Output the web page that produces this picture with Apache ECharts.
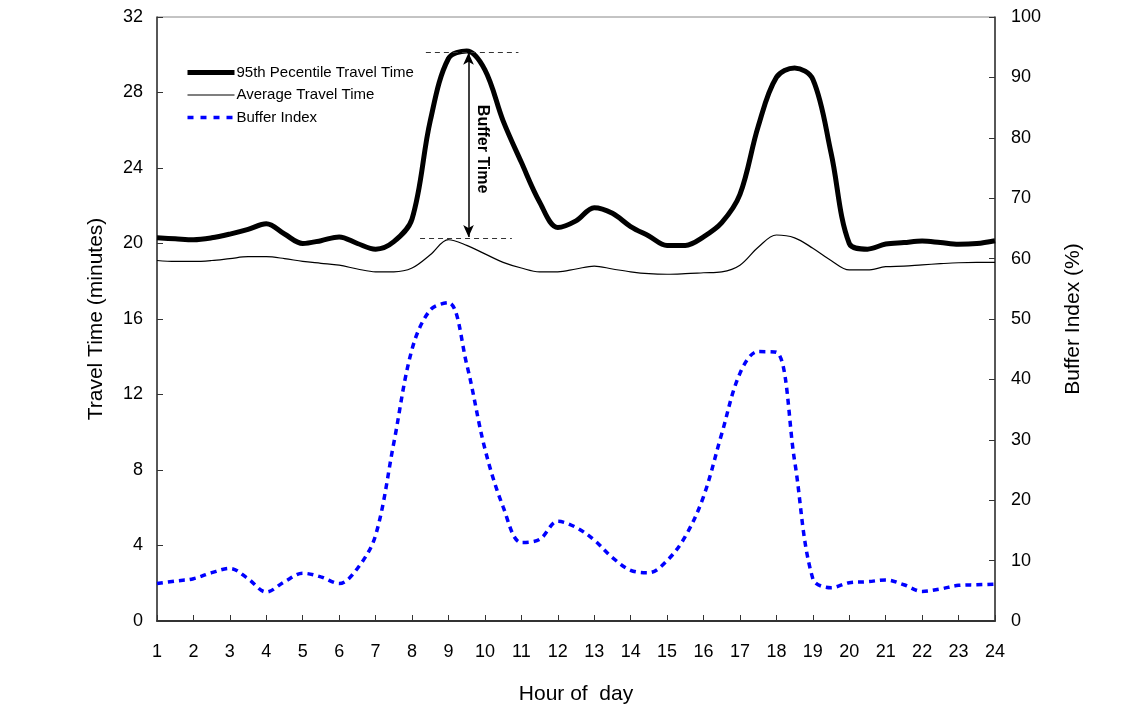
<!DOCTYPE html>
<html>
<head>
<meta charset="utf-8">
<script src="https://cdn.jsdelivr.net/npm/echarts@6/dist/echarts.min.js"></script>
<style>html,body{margin:0;padding:0;background:#fff}#c{width:1145px;height:707px}</style>
</head>
<body>
<div id="c"></div>
<script>
const hours = [1,1.5,2,2.5,3,3.5,4,4.5,5,5.5,6,6.5,7,7.5,8,8.5,9,9.5,10,10.5,11,11.5,12,12.5,13,13.5,14,14.5,15,15.5,16,16.5,17,17.5,18,18.5,19,19.5,20,20.5,21,21.5,22,22.5,23,23.5,24];
const p95 = [20.3,20.25,20.2,20.3,20.5,20.75,21.05,20.5,20.0,20.15,20.35,20.0,19.7,20.1,21.3,26.5,29.8,30.2,29.2,26.5,24.3,22.2,20.85,21.2,21.9,21.6,20.9,20.4,19.9,19.9,20.35,21.1,22.6,26.2,28.8,29.3,28.7,24.8,20.0,19.7,19.97,20.05,20.13,20.05,19.96,20.0,20.15];
const avgTT = [19.1,19.05,19.05,19.1,19.2,19.3,19.3,19.2,19.05,18.95,18.85,18.65,18.5,18.5,18.7,19.4,20.2,19.9,19.45,19.0,18.7,18.5,18.5,18.65,18.8,18.65,18.5,18.4,18.37,18.4,18.45,18.5,18.85,19.8,20.45,20.3,19.75,19.1,18.6,18.6,18.77,18.8,18.87,18.93,18.98,19.0,19.0];
const bufferIdx = [6.2,6.6,7.0,8.0,8.7,7.0,4.8,6.5,7.9,7.3,6.2,8.7,14.2,29.5,45.0,51.5,52.7,42.5,28.5,18.9,13.0,13.5,16.5,15.5,13.4,10.5,8.4,8.0,10.0,14.0,20.6,31.0,41.0,44.6,44.5,26.5,7.0,5.5,6.35,6.5,6.8,6.0,4.9,5.3,5.9,6.0,6.1];
const seriesNames = ['95th Pecentile Travel Time','Average Travel Time','Buffer Index'];
// annotation (data coordinates): upper/lower dashed guides and arrow
const upperGuide = [[8.38,30.15],[10.92,30.15]];
const lowerGuide = [[8.22,20.3],[10.74,20.3]];
const arrowLine = [[9.55,30.1],[9.55,20.35]];
const annotText = {x:9.93, y:25.0, text:'Buffer Time'};

const font = 'Liberation Sans, Arial, sans-serif';
const chart = echarts.init(document.getElementById('c'), null, {renderer:'canvas'});
const zip = (a)=>hours.map((h,i)=>[h,a[i]]);
const lw = [5, 1.2, 3.5];
chart.setOption({
  animation:false,
  backgroundColor:'#fff',
  textStyle:{fontFamily:font},
  grid:{left:157,right:150,top:17,bottom:86,outerBoundsMode:'none',containLabel:false,show:true,borderColor:'#888',borderWidth:1,backgroundColor:'transparent'},
  legend:{
    orient:'vertical', left:180, top:60, itemWidth:47, itemHeight:14, itemGap:7.5,
    itemStyle:{opacity:0},
    textStyle:{fontFamily:font,fontSize:15,color:'#000',padding:[0,0,0,-3]},
    data:[
      {name:seriesNames[0], lineStyle:{width:lw[0]}},
      {name:seriesNames[1], lineStyle:{width:lw[1]}},
      {name:seriesNames[2], lineStyle:{width:lw[2],type:[6,7]}}
    ]
  },
  xAxis:{
    type:'value', min:1, max:24, interval:1,
    name:'Hour of  day', nameLocation:'middle', nameGap:63,
    nameTextStyle:{fontSize:21,color:'#000',fontFamily:font},
    axisLine:{lineStyle:{color:'#333',width:2}},
    axisTick:{inside:true,length:6,lineStyle:{color:'#333'}},
    axisLabel:{fontSize:18,color:'#000',margin:22,fontFamily:font},
    splitLine:{show:false}
  },
  yAxis:[{
    type:'value', min:0, max:32, interval:4, position:'left',
    name:'Travel Time (minutes)', nameLocation:'middle', nameGap:50,
    nameTextStyle:{fontSize:21,color:'#000',fontFamily:font},
    axisLine:{show:true,lineStyle:{color:'#333',width:1.5}},
    axisTick:{show:true,inside:true,length:6,lineStyle:{color:'#333'}},
    axisLabel:{fontSize:18,color:'#000',margin:14,fontFamily:font},
    splitLine:{show:false}
  },{
    type:'value', min:0, max:100, interval:10, position:'right',
    name:'Buffer Index (%)', nameLocation:'middle', nameGap:68,
    nameTextStyle:{fontSize:21,color:'#000',fontFamily:font},
    axisLine:{show:true,lineStyle:{color:'#333',width:1.5}},
    axisTick:{show:true,inside:true,length:6,lineStyle:{color:'#333'}},
    axisLabel:{fontSize:18,color:'#000',margin:16,fontFamily:font},
    splitLine:{show:false}
  }],
  series:[{
    name:seriesNames[0], type:'line', yAxisIndex:0, data:zip(p95), smooth:0.35,
    symbol:'none', lineStyle:{color:'#000',width:lw[0]}, itemStyle:{color:'#000'},
    markLine:{
      silent:true, symbol:'none', label:{show:false},
      lineStyle:{color:'#333',width:1,type:[5,4]},
      data:[
        [{coord:upperGuide[0]},{coord:upperGuide[1]}],
        [{coord:lowerGuide[0]},{coord:lowerGuide[1]}],
        [{coord:arrowLine[0],symbol:'arrow'},{coord:arrowLine[1],symbol:'arrow',lineStyle:{type:'solid',width:1.5,color:'#000'}}]
      ],
      symbolSize:[8,12]
    }
  },{
    name:seriesNames[1], type:'line', yAxisIndex:0, data:zip(avgTT), smooth:0.35,
    symbol:'none', lineStyle:{color:'#000',width:lw[1]}, itemStyle:{color:'#000'}
  },{
    name:seriesNames[2], type:'line', yAxisIndex:1, data:zip(bufferIdx), smooth:0.35,
    symbol:'none', lineStyle:{color:'#0000ff',width:lw[2],type:[6,5]}, itemStyle:{color:'#0000ff'}
  }]
});
const pt = chart.convertToPixel({xAxisIndex:0,yAxisIndex:0},[annotText.x,annotText.y]);
chart.setOption({graphic:[{
  type:'text', x:pt[0], y:pt[1], rotation:-Math.PI/2,
  style:{text:annotText.text, font:'bold 16px '+font, fill:'#000', align:'center', verticalAlign:'middle'}
}]});
</script>
</body>
</html>
